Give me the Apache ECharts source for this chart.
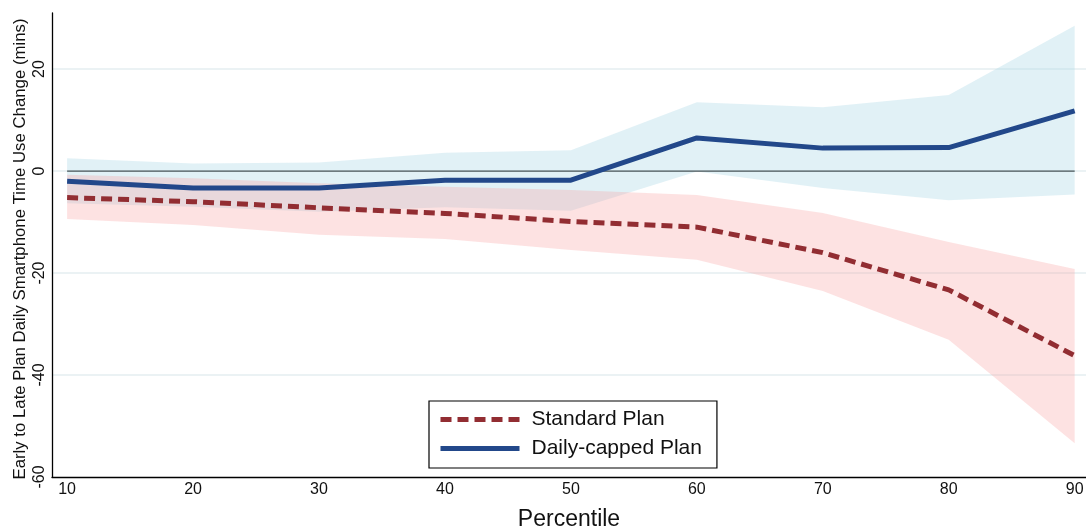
<!DOCTYPE html>
<html>
<head>
<meta charset="utf-8">
<script src="https://cdn.jsdelivr.net/npm/echarts@6/dist/echarts.min.js"></script>
<style>
html,body{margin:0;padding:0;background:#fff;}
#chart{width:1086px;height:526px;}
</style>
</head>
<body>
<div id="chart"></div>
<script>
// ---- data ----
var percentiles = [10, 20, 30, 40, 50, 60, 70, 80, 90];
var standardPlan = [-5.2, -6.0, -7.2, -8.3, -9.9, -11.0, -16.0, -23.3, -36.2];
var standardLower = [-9.4, -10.6, -12.5, -13.3, -15.5, -17.4, -23.5, -33.1, -53.4];
var standardUpper = [-0.7, -1.4, -2.4, -3.1, -3.7, -4.7, -8.2, -13.9, -19.2];
var cappedPlan = [-2.0, -3.3, -3.3, -1.8, -1.8, 6.5, 4.5, 4.6, 11.8];
var cappedLower = [-6.3, -7.0, -8.0, -7.1, -7.8, -0.1, -3.3, -5.7, -4.6];
var cappedUpper = [2.5, 1.5, 1.7, 3.6, 4.1, 13.5, 12.5, 14.9, 28.5];
var xTickLabels = [10, 20, 30, 40, 50, 60, 70, 80, 90];
var yTickLabels = [-60, -40, -20, 0, 20];
var gridValues = [20, 0, -20, -40];
var zeroLineValue = 0;

var FONT = "'Liberation Sans', Arial, sans-serif";

function pairs(xs, ys) { return xs.map(function (x, i) { return [x, ys[i]]; }); }
function bandRows(xs, lo, hi) { return xs.map(function (x, i) { return [x, lo[i], hi[i]]; }); }

function bandSeries(name, xs, lo, hi, color, z) {
  return {
    name: name, type: 'custom', silent: true, z: z,
    data: bandRows(xs, lo, hi),
    encode: { x: 0, y: [1, 2] },
    renderItem: function (params, api) {
      if (params.dataIndex !== 0) return null;
      var pts = [];
      for (var i = 0; i < xs.length; i++) pts.push(api.coord([xs[i], hi[i]]));
      for (var j = xs.length - 1; j >= 0; j--) pts.push(api.coord([xs[j], lo[j]]));
      return {
        type: 'polygon',
        shape: { points: pts },
        style: { fill: color, stroke: null }
      };
    }
  };
}

var chart = echarts.init(document.getElementById('chart'), null, { renderer: 'canvas' });

var option = {
  animation: false,
  backgroundColor: '#ffffff',
  grid: { left: 52, right: 0, top: 13, bottom: 49, containLabel: false, outerBoundsMode: 'none' },
  legend: {
    data: ['Standard Plan', 'Daily-capped Plan'],
    orient: 'vertical',
    left: 429,
    top: 401,
    width: 284,
    padding: [8, 15, 9, 9],
    itemGap: 8,
    itemWidth: 79,
    itemHeight: 21,
    borderColor: '#000',
    borderWidth: 1.2,
    itemStyle: { opacity: 0 },
    lineStyle: { width: 5 },
    textStyle: { fontFamily: FONT, fontSize: 21, color: '#111', padding: [0, 0, 0, 7] }
  },
  xAxis: {
    type: 'value',
    min: 8.8,
    max: 90.9,
    name: 'Percentile',
    nameLocation: 'middle',
    nameGap: 31,
    nameTextStyle: { fontFamily: FONT, fontSize: 23, color: '#111' },
    axisLine: { show: true, onZero: false, lineStyle: { color: '#000', width: 1.3 } },
    axisTick: { show: false },
    splitLine: { show: false },
    axisLabel: {
      customValues: xTickLabels,
      margin: 5,
      fontFamily: FONT, fontSize: 16, color: '#111'
    }
  },
  yAxis: {
    type: 'value',
    min: -60,
    max: 31,
    name: 'Early to Late Plan Daily Smartphone Time Use Change (mins)',
    nameLocation: 'middle',
    nameGap: 23,
    nameMoveOverlap: false,
    nameTextStyle: { fontFamily: FONT, fontSize: 16.8, color: '#111', padding: [0, 8, 0, 0] },
    axisLine: { show: true, onZero: false, lineStyle: { color: '#000', width: 1.3 } },
    axisTick: { show: false },
    splitLine: { show: false },
    axisLabel: {
      customValues: yTickLabels,
      rotate: 90,
      margin: 4,
      fontFamily: FONT, fontSize: 16, color: '#111'
    }
  },
  series: [
    {
      name: 'gridlines', type: 'line', data: [], silent: true, symbol: 'none',
      markLine: {
        silent: true, z: 0, symbol: ['none', 'none'], label: { show: false },
        lineStyle: { color: '#e5eef1', width: 1.5, type: 'solid' },
        data: gridValues.map(function (v) { return { yAxis: v }; })
      },
      z: 0
    },
    bandSeries('cappedBand', percentiles, cappedLower, cappedUpper, 'rgba(173,216,230,0.37)', 1),
    bandSeries('standardBand', percentiles, standardLower, standardUpper, 'rgba(250,160,160,0.30)', 2),
    {
      name: 'zero', type: 'line', symbol: 'none', silent: true,
      data: [[percentiles[0], zeroLineValue], [percentiles[percentiles.length - 1], zeroLineValue]],
      lineStyle: { color: '#4b5459', width: 1.3 }, z: 3
    },
    {
      name: 'Standard Plan', type: 'line', symbol: 'none',
      data: pairs(percentiles, standardPlan),
      itemStyle: { color: '#922d32' },
      lineStyle: { color: '#922d32', width: 5, type: [11, 6], cap: 'butt' }, z: 4
    },
    {
      name: 'Daily-capped Plan', type: 'line', symbol: 'none',
      data: pairs(percentiles, cappedPlan),
      itemStyle: { color: '#22488a' },
      lineStyle: { color: '#22488a', width: 5, cap: 'butt' }, z: 5
    }
  ]
};
chart.setOption(option);
</script>
</body>
</html>
